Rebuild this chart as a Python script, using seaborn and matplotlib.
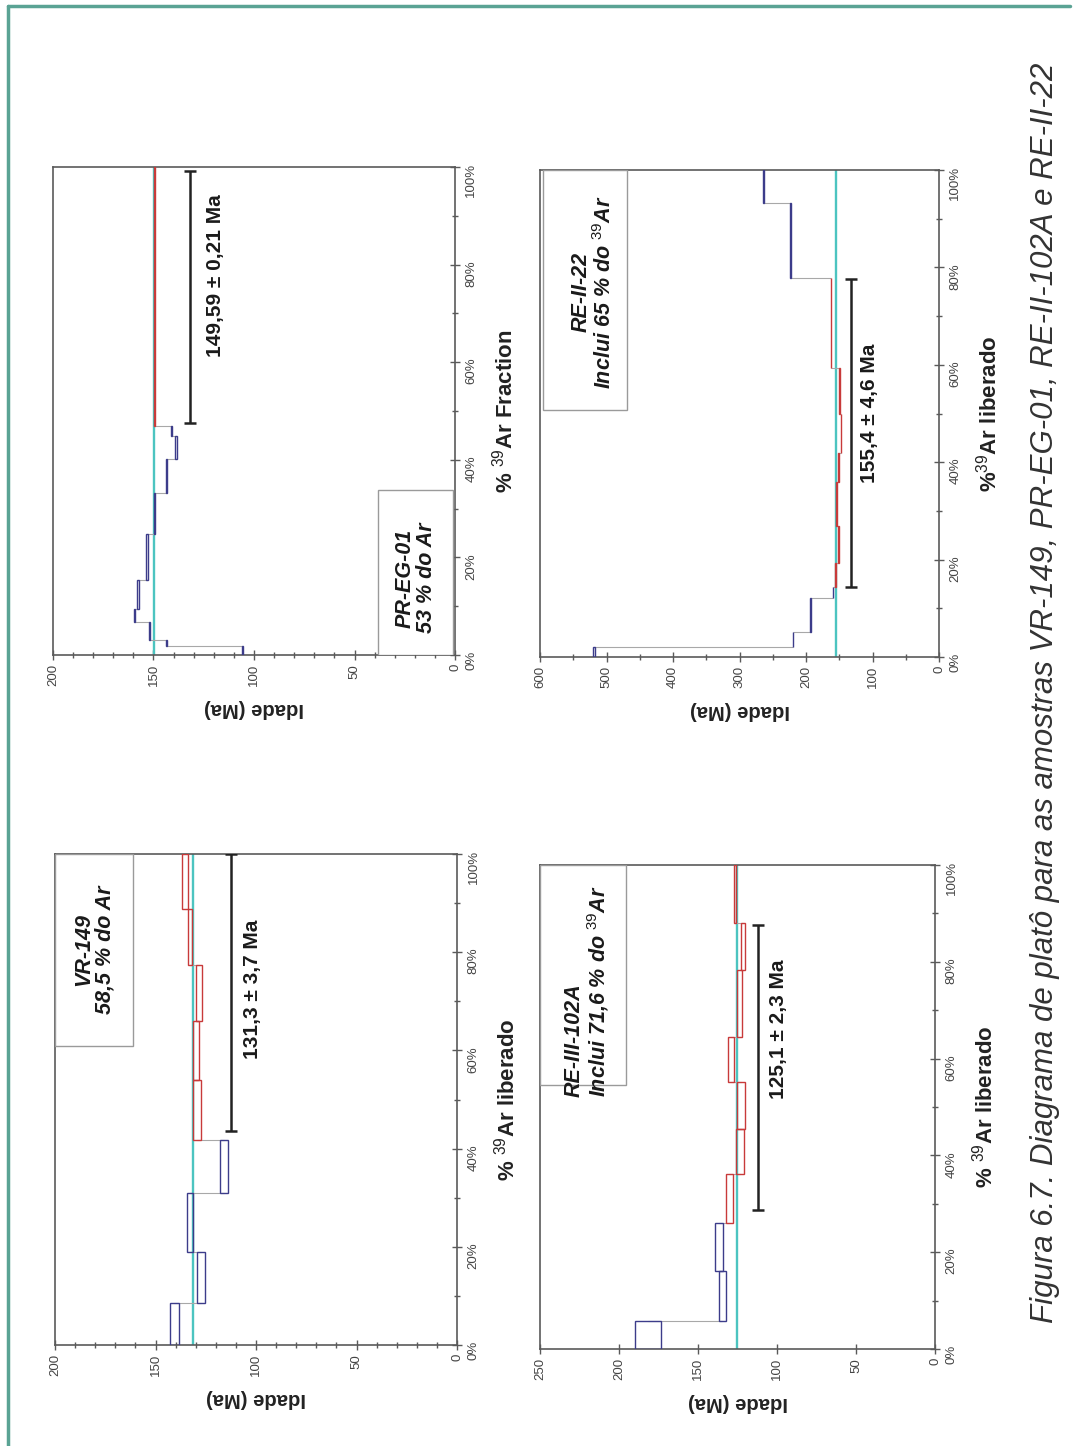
"""
Ar-Ar plateau spectra (Figura 6.7), drawn page-rotated as in the source:
age runs horizontally (old on the left), % 39Ar released runs upward.
"""
import matplotlib
matplotlib.use("Agg")
import matplotlib.pyplot as plt
from matplotlib.lines import Line2D
from matplotlib.patches import Rectangle
from matplotlib.ticker import MultipleLocator, FuncFormatter
import numpy as np
import seaborn as sns

sns.set_theme(style="ticks")
plt.rcParams["font.family"] = ["Liberation Sans", "DejaVu Sans"]
plt.rcParams["mathtext.fontset"] = "custom"
plt.rcParams["mathtext.rm"] = "Liberation Sans"
plt.rcParams["mathtext.it"] = "Liberation Sans:italic"
plt.rcParams["mathtext.bf"] = "Liberation Sans:bold"

BLUE = "#3c3c8a"
RED = "#c83a3a"
TEAL = "#4cc4c0"
GREY = "#a8a8a8"
FRAME = "#5a5a5a"

# ---- VR-149 ----
vr_frac = [0, 8.6, 19.0, 31.0, 41.8, 54.0, 66.0, 77.4, 88.8, 100]
vr_age = [140.6, 127.3, 133.0, 115.9, 129.5, 129.9, 128.2, 132.9, 135.2]
vr_err = [2.3, 1.9, 1.6, 1.9, 2.1, 1.5, 1.5, 1.1, 1.4]
vr_plat = [0, 0, 0, 0, 1, 1, 1, 1, 1]
vr_plateau_age = 131.3
vr_bar = (43.5, 100)

# ---- PR-EG-01 ----
pr_frac = [0, 1.8, 3.1, 6.7, 9.4, 15.4, 24.8, 33.3, 40.2, 44.9, 47.0, 100]
pr_age = [105.7, 143.4, 152.0, 159.4, 157.7, 153.2, 149.4, 143.4, 138.8, 141.0, 149.6]
pr_err = [0.3, 0.3, 0.3, 0.3, 0.3, 0.3, 0.2, 0.3, 0.3, 0.3, 0.2]
pr_plat = [0] * 10 + [1]
pr_plateau_age = 149.59
pr_bar = (47.5, 99.2)

# ---- RE-III-102A ----
re3_frac = [0, 5.8, 16.2, 26.0, 36.1, 45.4, 55.2, 64.5, 78.4, 88.0, 100]
re3_age = [181.9, 134.6, 136.9, 130.2, 123.4, 122.9, 129.1, 123.5, 121.4, 126.5]
re3_err = [8.2, 2.3, 2.4, 2.3, 2.4, 2.4, 2.0, 1.6, 1.4, 0.5]
re3_plat = [0, 0, 0, 1, 1, 1, 1, 1, 1, 1]
re3_plateau_age = 125.1
re3_bar = (28.7, 87.6)

# ---- RE-II-22 ----
re2_frac = [0, 2.1, 5.1, 12.2, 14.3, 19.3, 27.0, 36.0, 42.0, 50.0, 59.4, 77.8, 93.2, 100]
re2_age = [518.6, 219.4, 192.8, 159.6, 155.7, 151.2, 154.0, 151.2, 147.4, 149.6, 162.3, 223.3, 263.7]
re2_err = [1.0, 0.5, 0.5, 0.5, 0.5, 0.5, 0.5, 0.5, 0.5, 0.5, 0.5, 0.5, 0.5]
re2_plat = [0, 0, 0, 0, 1, 1, 1, 1, 1, 1, 1, 0, 0]
re2_plateau_age = 155.4
re2_bar = (14.3, 77.7)

panels = [
    dict(rect=[0.0511, 0.0698, 0.3733, 0.3396], frac=vr_frac, age=vr_age, err=vr_err,
         plat=vr_plat, plateau=vr_plateau_age, bar=vr_bar, bar_age=112.6,
         amax=200, major=50, minor=10, result="131,3 ± 3,7 Ma", res_pos=(102, 72.5),
         name="VR-149", note="58,5 % do Ar", box=(200, 161.4, 60.9, 100),
         note_pos=(180.5, 80.5), note_align="center",
         xlabel=r"% $^{39}$Ar liberado"),
    dict(rect=[0.0492, 0.5470, 0.3733, 0.3375], frac=pr_frac, age=pr_age, err=pr_err,
         plat=pr_plat, plateau=pr_plateau_age, bar=pr_bar, bar_age=132,
         amax=200, major=50, minor=10, result="149,59 ± 0,21 Ma", res_pos=(119, 77.7),
         name="PR-EG-01", note="53 % do Ar", box=(38.2, 1.2, 0, 33.9),
         note_pos=(19.5, 15.8), note_align="center",
         xlabel=r"% $^{39}$Ar Fraction"),
    dict(rect=[0.5014, 0.0671, 0.3668, 0.3347], frac=re3_frac, age=re3_age, err=re3_err,
         plat=re3_plat, plateau=re3_plateau_age, bar=re3_bar, bar_age=112,
         amax=250, major=50, minor=None, result="125,1 ± 2,3 Ma", res_pos=(99, 66),
         name="RE-III-102A", note=r"Inclui 71,6 % do $^{39}$Ar", box=(250, 195.5, 54.5, 100),
         note_pos=(220, 52.0), note_align="left",
         xlabel=r"% $^{39}$Ar liberado"),
    dict(rect=[0.5014, 0.5456, 0.3705, 0.3368], frac=re2_frac, age=re2_age, err=re2_err,
         plat=re2_plat, plateau=re2_plateau_age, bar=re2_bar, bar_age=131.9,
         amax=600, major=100, minor=50, result="155,4 ± 4,6 Ma", res_pos=(104, 50),
         name="RE-II-22", note=r"Inclui 65 % do $^{39}$Ar", box=(595.6, 469.8, 50.7, 100),
         note_pos=(520, 75), note_align="center",
         xlabel=r"%$^{39}$Ar liberado"),
]

fig = plt.figure(figsize=(10.77, 14.46), dpi=100)

for p in panels:
    ax = fig.add_axes(p["rect"])
    frac = np.array(p["frac"], dtype=float)
    age = np.array(p["age"], dtype=float)
    err = np.array(p["err"], dtype=float)
    cols = [RED if f else BLUE for f in p["plat"]]

    # thin connectors between consecutive steps
    for i in range(len(age) - 1):
        ax.hlines(frac[i + 1], age[i], age[i + 1], color=GREY, lw=0.8, zorder=2)

    ax.axvline(p["plateau"], color=TEAL, lw=1.7, zorder=1)

    ax.barh(y=frac[:-1], width=2 * err, left=age - err, height=np.diff(frac),
            align="edge", fill=False, edgecolor=cols, linewidth=1.0, zorder=3)

    b0, b1 = p["bar"]
    ax.errorbar(x=p["bar_age"], y=(b0 + b1) / 2, yerr=(b1 - b0) / 2, color="#222222",
                lw=1.8, capsize=4, capthick=1.8, zorder=4)
    ax.text(*p["res_pos"], p["result"], rotation=90, ha="center", va="center",
            fontsize=15, fontweight="bold", color="#1a1a1a")

    a0, a1, f0, f1 = p["box"]
    ax.add_patch(Rectangle((a1, f0), a0 - a1, f1 - f0, fill=True, facecolor="white",
                           edgecolor="#9a9a9a", lw=1.0, zorder=5))
    ax.text(p["note_pos"][0], p["note_pos"][1], p["name"] + "\n" + p["note"],
            rotation=90, ha="center",
            va="bottom" if p["note_align"] == "left" else "center",
            multialignment=p["note_align"], fontsize=15.5, style="italic",
            fontweight="bold", color="#1a1a1a", linespacing=1.05, zorder=6)

    ax.set_xlim(p["amax"], 0)
    ax.set_ylim(0, 100)
    ax.xaxis.set_major_locator(MultipleLocator(p["major"]))
    if p["minor"]:
        ax.xaxis.set_minor_locator(MultipleLocator(p["minor"]))
    ax.yaxis.set_major_locator(MultipleLocator(20))
    ax.yaxis.set_minor_locator(MultipleLocator(10))
    ax.yaxis.set_major_formatter(FuncFormatter(lambda v, _: f"{v:.0f}%"))

    ax.tick_params(axis="both", which="both", direction="inout", color=FRAME,
                   labelcolor="#444444", labelsize=9.5)
    ax.tick_params(which="major", length=7, width=1)
    ax.tick_params(which="minor", length=4, width=1)
    ax.tick_params(axis="x", which="both", labelrotation=90, top=False, bottom=True, pad=3)
    ax.tick_params(axis="y", which="both", labelrotation=90, left=False, right=True,
                   labelleft=False, labelright=True, pad=4)
    for s in ax.spines.values():
        s.set_color(FRAME)
        s.set_linewidth(1.2)

    ax.set_xlabel("Idade (Ma)", rotation=180, fontsize=14.5, fontweight="bold",
                  color="#222222", labelpad=9)
    ax.yaxis.set_label_position("right")
    ax.set_ylabel(p["xlabel"], rotation=90, fontsize=16, fontweight="bold",
                  color="#222222", labelpad=10)

# outer page frame
fig.add_artist(Line2D([8 / 1077, 8 / 1077], [0, 1 - 6 / 1446], color="#5aa394", lw=2.5))
fig.add_artist(Line2D([8 / 1077, 1070 / 1077], [1 - 6 / 1446, 1 - 6 / 1446],
                      color="#5aa394", lw=2.5))

fig.text(1045 / 1077, 0.521,
         "Figura 6.7. Diagrama de platô para as amostras VR-149, PR-EG-01, RE-II-102A e RE-II-22",
         rotation=90, ha="center", va="center", fontsize=22.5, style="italic", color="#333333")

fig.savefig("out.png", dpi=100)
